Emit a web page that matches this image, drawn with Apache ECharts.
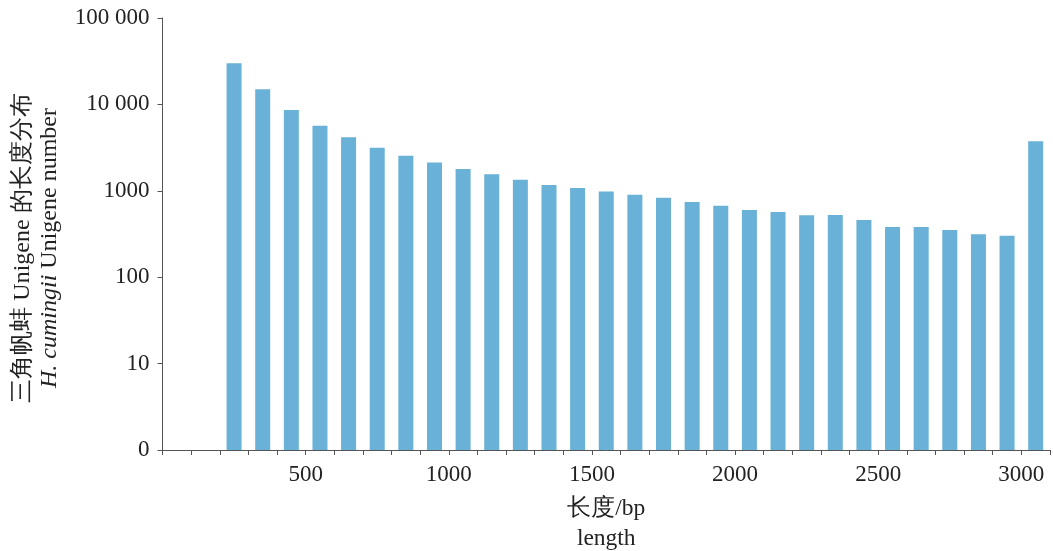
<!DOCTYPE html>
<html>
<head>
<meta charset="utf-8">
<script src="https://cdn.jsdelivr.net/npm/echarts@6/dist/echarts.min.js"></script>
<style>
html,body{margin:0;padding:0;background:#fff;}
#chart{width:1053px;height:551px;}
</style>
</head>
<body>
<div id="chart"></div>
<script>
// Bin start lengths (bp); last bin is >3000
const binStarts = [200,300,400,500,600,700,800,900,1000,1100,1200,1300,1400,1500,1600,1700,1800,1900,2000,2100,2200,2300,2400,2500,2600,2700,2800,2900,3000];
const binWidth = 100;
// Unigene counts per bin
const counts = [29900,15000,8600,5670,4160,3150,2550,2120,1790,1550,1345,1170,1080,980,900,830,740,670,600,570,520,525,460,380,380,352,314,302,3740];
const yTickLabels = {1:'0',10:'10',100:'100',1000:'1000',10000:'10 000',100000:'100 000'};

const serif = '"Liberation Serif","Times New Roman",serif';
const seriesData = binStarts.map((b,i)=>[b+binWidth/2, counts[i]]);

const chart = echarts.init(document.getElementById('chart'));
chart.setOption({
  animation:false,
  backgroundColor:'#fff',
  grid:{left:162.5,right:3,top:18,bottom:101,containLabel:false,outerBoundsMode:'none'},
  xAxis:{
    type:'value',min:0,max:3100,interval:100,
    axisLine:{lineStyle:{color:'#555',width:1}},
    axisTick:{show:true,length:5,lineStyle:{color:'#555'}},
    splitLine:{show:false},
    axisLabel:{
      color:'#222',fontFamily:serif,fontSize:23,margin:13,
      formatter:v=> (v>0 && v%500===0) ? String(v) : ''
    },
    name:'长度/bp\nlength',
    nameLocation:'middle',nameGap:44,
    nameTextStyle:{color:'#222',fontFamily:serif,fontSize:23.5,lineHeight:30}
  },
  yAxis:{
    type:'log',logBase:10,min:1,max:100000,
    axisLine:{show:true,lineStyle:{color:'#555',width:1}},
    axisTick:{show:true,length:5,lineStyle:{color:'#555'}},
    splitLine:{show:false},
    axisLabel:{
      color:'#222',fontFamily:serif,fontSize:23,margin:13,
      formatter:v=> yTickLabels[Math.round(v)] || ''
    },
    name:'{a|三角帆蚌 Unigene 的长度分布}\n{i|H. cumingii}{a| Unigene number}',
    nameLocation:'middle',nameGap:99,
    nameTextStyle:{
      color:'#222',fontFamily:serif,fontSize:24,lineHeight:27,padding:[0,28,0,0],
      rich:{
        a:{fontFamily:serif,fontSize:24,color:'#222',lineHeight:27},
        i:{fontFamily:serif,fontSize:24,color:'#222',fontStyle:'italic',lineHeight:27}
      }
    }
  },
  series:[{
    type:'bar',
    data:seriesData,
    barWidth:15,
    itemStyle:{color:'#69b1d6'}
  }]
});
</script>
</body>
</html>
